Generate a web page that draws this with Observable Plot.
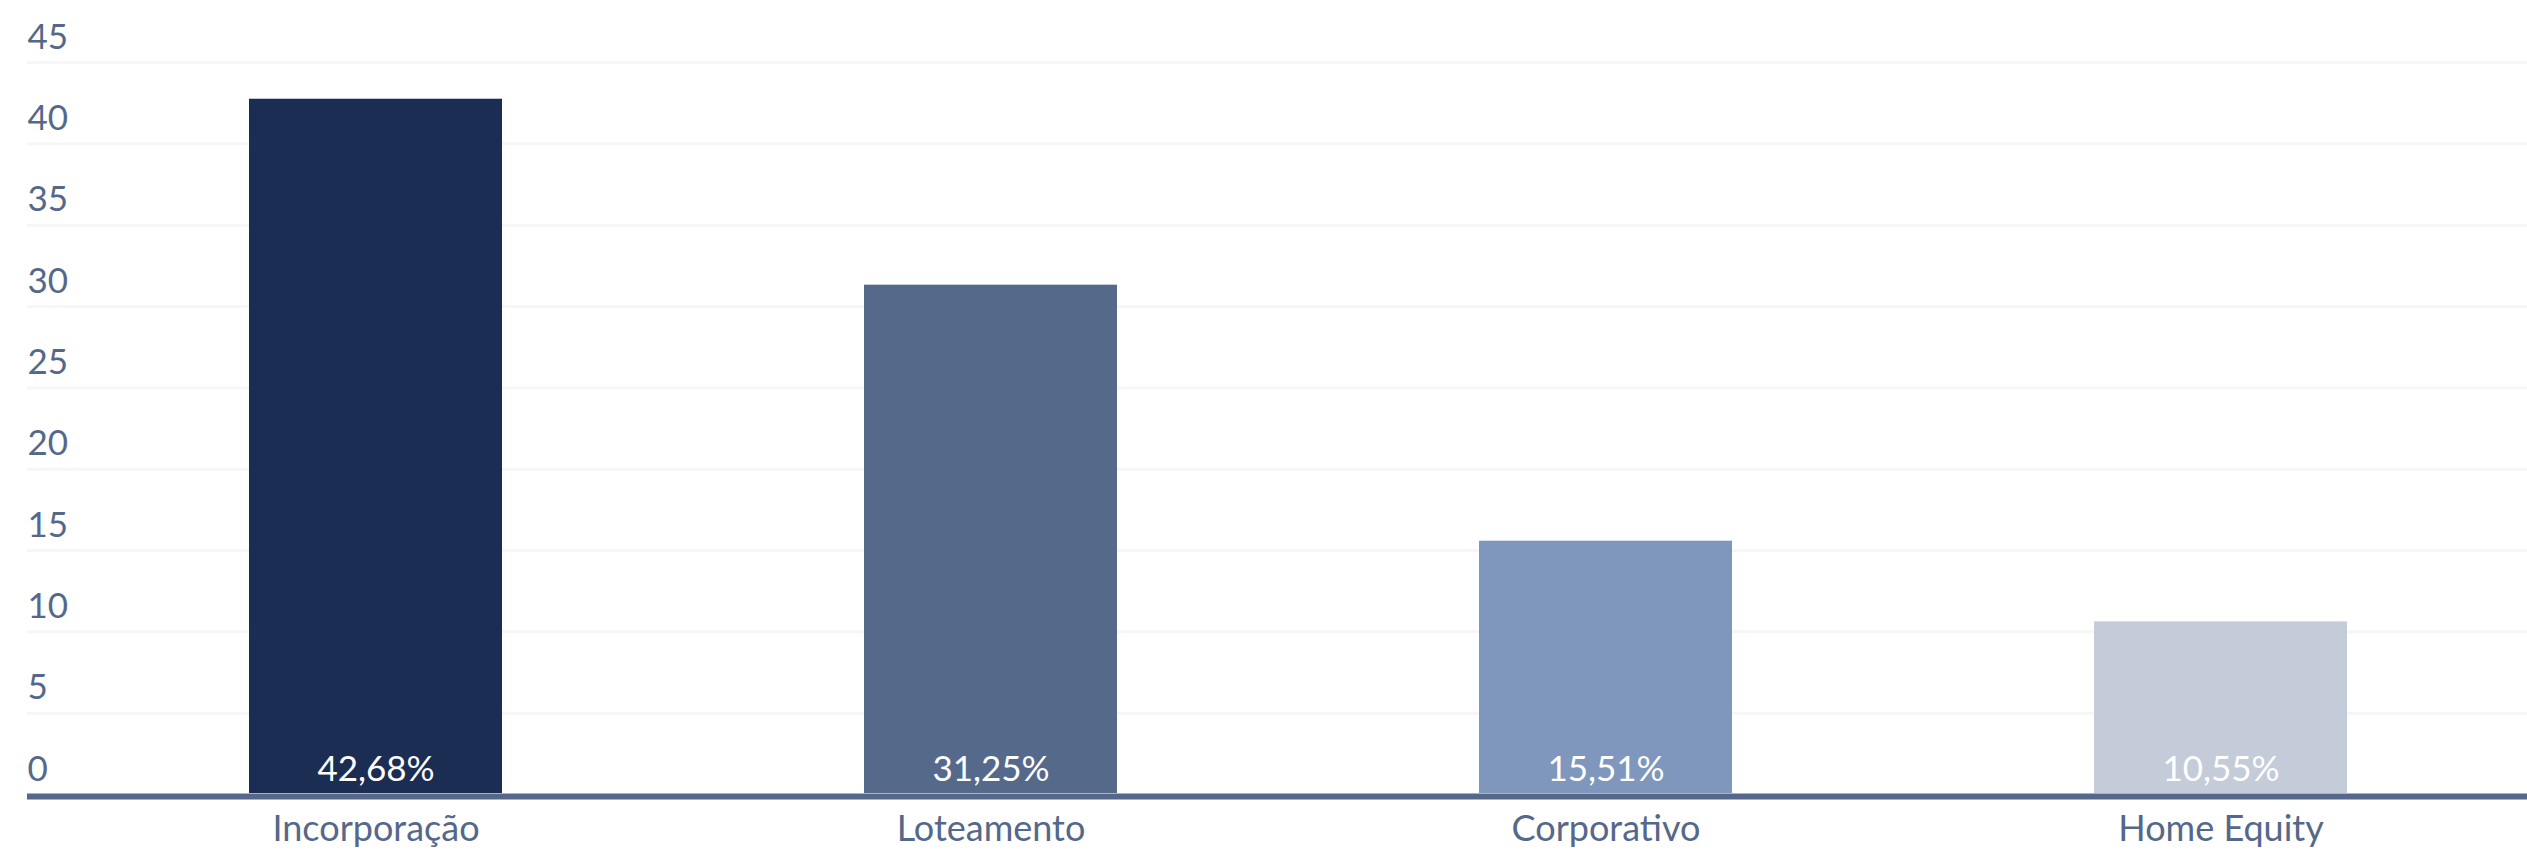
<!DOCTYPE html>
<html>
<head>
<meta charset="utf-8">
<script src="https://cdn.jsdelivr.net/npm/d3@7"></script>
<script src="https://cdn.jsdelivr.net/npm/@observablehq/plot@0.6"></script>
<style>
  html, body { margin: 0; padding: 0; background: #ffffff; }
  #chart svg { display: block; }
</style>
</head>
<body>
<div id="chart"></div>
<script>
const categories = ["Incorporação", "Loteamento", "Corporativo", "Home Equity"];
const values = [42.68, 31.25, 15.51, 10.55];
const barColors = ["#1b2d53", "#55698b", "#7f96bd", "#c4cbd9"];
const yTicks = [0, 5, 10, 15, 20, 25, 30, 35, 40, 45];
const gridTicks = [5, 10, 15, 20, 25, 30, 35, 40, 45];

const data = categories.map((c, i) => ({category: c, value: values[i]}));
const fmt = v => v.toFixed(2).replace(".", ",") + "%";
const axisColor = "#55688a";

const chart = Plot.plot({
  width: 2527,
  height: 850,
  marginLeft: 27,
  marginRight: 0,
  marginTop: 61,
  marginBottom: 57,
  style: {fontFamily: "Lato, 'Open Sans', sans-serif", fontSize: "36px", color: axisColor, background: "#ffffff"},
  x: {domain: categories, paddingInner: 0.589, paddingOuter: 0.325, align: 0.553, label: null},
  y: {domain: [0, 45], label: null},
  color: {domain: categories, range: barColors},
  marks: [
    Plot.ruleY(gridTicks, {stroke: "#f6f6f6", strokeWidth: 3, dy: 1}),
    Plot.barY(data, {x: "category", y: "value", fill: "category"}),
    Plot.ruleY([0], {stroke: axisColor, strokeWidth: 6, dy: 3}),
    Plot.text(data, {x: "category", y: 0, text: d => fmt(d.value), fill: "#ffffff", fontSize: 35, dy: -24}),
    Plot.axisY(yTicks, {tickSize: 0, tickPadding: 0, textAnchor: "start", fill: axisColor, fontSize: 35, dy: -24, label: null}),
    Plot.axisX({tickSize: 0, tickPadding: 22, fill: axisColor, fontSize: 36, label: null})
  ]
});
document.getElementById("chart").appendChild(chart);
</script>
</body>
</html>
